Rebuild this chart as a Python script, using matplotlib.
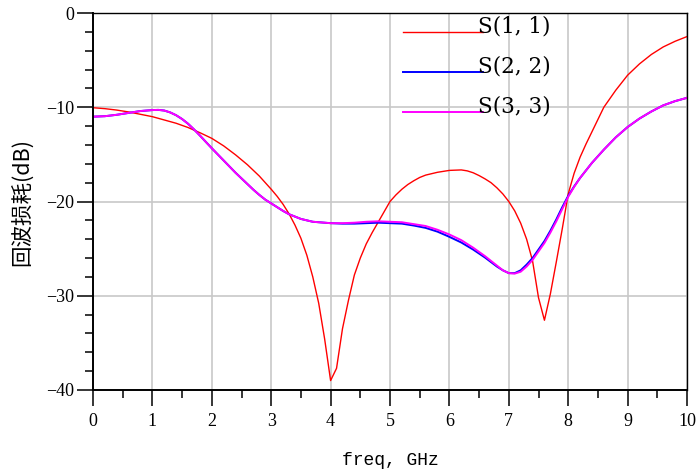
import numpy as np
import matplotlib
matplotlib.use('Agg')
import matplotlib.pyplot as plt
from matplotlib.ticker import MultipleLocator

# S11 (red)
f11 = [0, 0.2, 0.4, 0.6, 0.8, 1.0, 1.2, 1.4, 1.6, 1.8, 2.0, 2.2, 2.4, 2.6, 2.8,
       3.0, 3.1, 3.2, 3.3, 3.4, 3.5, 3.6, 3.7, 3.8, 3.9, 4.0, 4.1, 4.2, 4.3, 4.4,
       4.5, 4.6, 4.7, 4.8, 4.9, 5.0, 5.1, 5.2, 5.3, 5.4, 5.5, 5.6, 5.8, 6.0, 6.2,
       6.3, 6.4, 6.5, 6.6, 6.7, 6.8, 6.9, 7.0, 7.1, 7.2, 7.3, 7.4, 7.5, 7.6, 7.7,
       7.8, 7.9, 8.0, 8.1, 8.2, 8.3, 8.4, 8.5, 8.6, 8.7, 8.8, 8.9, 9.0, 9.2, 9.4,
       9.6, 9.8, 10.0]
s11 = [-10.05, -10.15, -10.3, -10.5, -10.75, -11.0, -11.35, -11.7, -12.15, -12.7,
       -13.3, -14.1, -15.05, -16.1, -17.3, -18.7, -19.45, -20.3, -21.3, -22.5, -23.9,
       -25.7, -28.0, -30.8, -34.6, -39.0, -37.7, -33.5, -30.5, -27.8, -26.0, -24.5,
       -23.3, -22.2, -21.1, -20.0, -19.3, -18.7, -18.2, -17.8, -17.45, -17.2, -16.9,
       -16.7, -16.65, -16.75, -16.95, -17.25, -17.6, -18.0, -18.55, -19.2, -20.0,
       -21.0, -22.3, -24.0, -26.3, -30.2, -32.6, -29.8, -26.4, -22.9, -19.2, -17.0,
       -15.3, -13.9, -12.6, -11.3, -10.0, -9.1, -8.2, -7.4, -6.6, -5.4, -4.4, -3.6,
       -3.0, -2.5]

# S22 (blue) and S33 (magenta)
f22 = [0, 0.2, 0.4, 0.6, 0.8, 1.0, 1.1, 1.2, 1.3, 1.4, 1.5, 1.6, 1.7, 1.8, 1.9,
       2.0, 2.1, 2.2, 2.3, 2.4, 2.5, 2.6, 2.7, 2.8, 2.9, 3.0, 3.1, 3.2, 3.3, 3.4,
       3.5, 3.6, 3.7, 3.8, 3.9, 4.0, 4.2, 4.4, 4.6, 4.8, 5.0, 5.2, 5.4, 5.6, 5.8,
       6.0, 6.2, 6.4, 6.6, 6.8, 6.9, 7.0, 7.1, 7.2, 7.3, 7.4, 7.5, 7.6, 7.7, 7.8,
       7.9, 8.0, 8.1, 8.2, 8.4, 8.6, 8.8, 9.0, 9.2, 9.4, 9.6, 9.8, 10.0]
s22 = [-11.0, -10.95, -10.8, -10.6, -10.4, -10.3, -10.28, -10.35, -10.55, -10.85,
       -11.25, -11.75, -12.35, -13.0, -13.68, -14.35, -15.0, -15.65, -16.3, -16.95,
       -17.55, -18.15, -18.75, -19.3, -19.8, -20.2, -20.6, -21.0, -21.35, -21.6,
       -21.85, -22.0, -22.15, -22.2, -22.25, -22.3, -22.35, -22.35, -22.3, -22.25,
       -22.3, -22.35, -22.55, -22.8, -23.2, -23.75, -24.35, -25.1, -25.95, -26.9,
       -27.3, -27.6, -27.6, -27.3, -26.7, -26.0, -25.1, -24.2, -23.1, -21.9, -20.6,
       -19.4, -18.4, -17.5, -15.9, -14.5, -13.2, -12.1, -11.2, -10.45, -9.8, -9.35,
       -9.0]
s33 = [-11.0, -10.95, -10.8, -10.6, -10.4, -10.3, -10.28, -10.35, -10.55, -10.85,
       -11.25, -11.75, -12.35, -13.0, -13.68, -14.35, -15.0, -15.65, -16.3, -16.95,
       -17.55, -18.15, -18.75, -19.3, -19.8, -20.2, -20.6, -21.0, -21.35, -21.6,
       -21.85, -22.0, -22.15, -22.2, -22.25, -22.3, -22.3, -22.25, -22.15, -22.1,
       -22.15, -22.2, -22.4, -22.6, -23.0, -23.5, -24.1, -24.9, -25.8, -26.8,
       -27.3, -27.6, -27.65, -27.45, -26.9, -26.2, -25.3, -24.4, -23.3, -22.1, -20.8,
       -19.5, -18.45, -17.5, -15.9, -14.5, -13.2, -12.1, -11.2, -10.45, -9.8, -9.35,
       -9.0]

labels = ['S(1, 1)', 'S(2, 2)', 'S(3, 3)']
xticks = np.arange(0, 11, 1)
yticks = np.arange(-40, 1, 10)

fig = plt.figure(figsize=(6.97, 4.76), dpi=100)
ax = fig.add_axes([93/697, 1-390/476, 594/697, 377/476])

ax.plot(f11, s11, color='#ff0000', lw=1.0, label=labels[0])
ax.plot(f22, s22, color='#0000ff', lw=1.4, label=labels[1])
ax.plot(f22, s33, color='#ff00ff', lw=1.4, label=labels[2])

ax.set_xlim(0, 10)
ax.set_ylim(-40, 0)
ax.set_xticks(xticks)
ax.set_yticks(yticks)
ax.xaxis.set_minor_locator(MultipleLocator(0.5))
ax.yaxis.set_minor_locator(MultipleLocator(2))
ax.grid(True, which='major', color='#c8c8c8', lw=1.2)
ax.set_axisbelow(True)

ax.tick_params(which='major', direction='out', length=11.5, width=1.1, color='black')
ax.tick_params(which='minor', direction='out', length=5.5, width=1.1, color='black')
ax.tick_params(axis='x', pad=5)
ax.tick_params(axis='y', pad=2)
for lab in ax.get_xticklabels() + ax.get_yticklabels():
    lab.set_fontfamily('Liberation Serif')
    lab.set_fontsize(13)

for side in ['left', 'bottom']:
    ax.spines[side].set_linewidth(1.4)
for side in ['top', 'right']:
    ax.spines[side].set_linewidth(1.0)

ax.set_xlabel('freq, GHz', fontfamily='Liberation Mono', fontsize=13, labelpad=16)
ax.set_ylabel('回波损耗(dB)', fontfamily=['Noto Sans CJK SC', 'DejaVu Sans'],
              fontsize=15.5, labelpad=9)

leg = ax.legend(loc='upper left', bbox_to_anchor=(0.522, 0.9735), frameon=False,
                borderaxespad=0, borderpad=0, handlelength=3.7, handletextpad=-0.2,
                labelspacing=0.82, prop={'family': 'DejaVu Serif', 'size': 15.5})
# text sits a little above its line, as in the reference
for t in leg.get_texts():
    t.set_y(7)

fig.savefig('out.png', dpi=100)
